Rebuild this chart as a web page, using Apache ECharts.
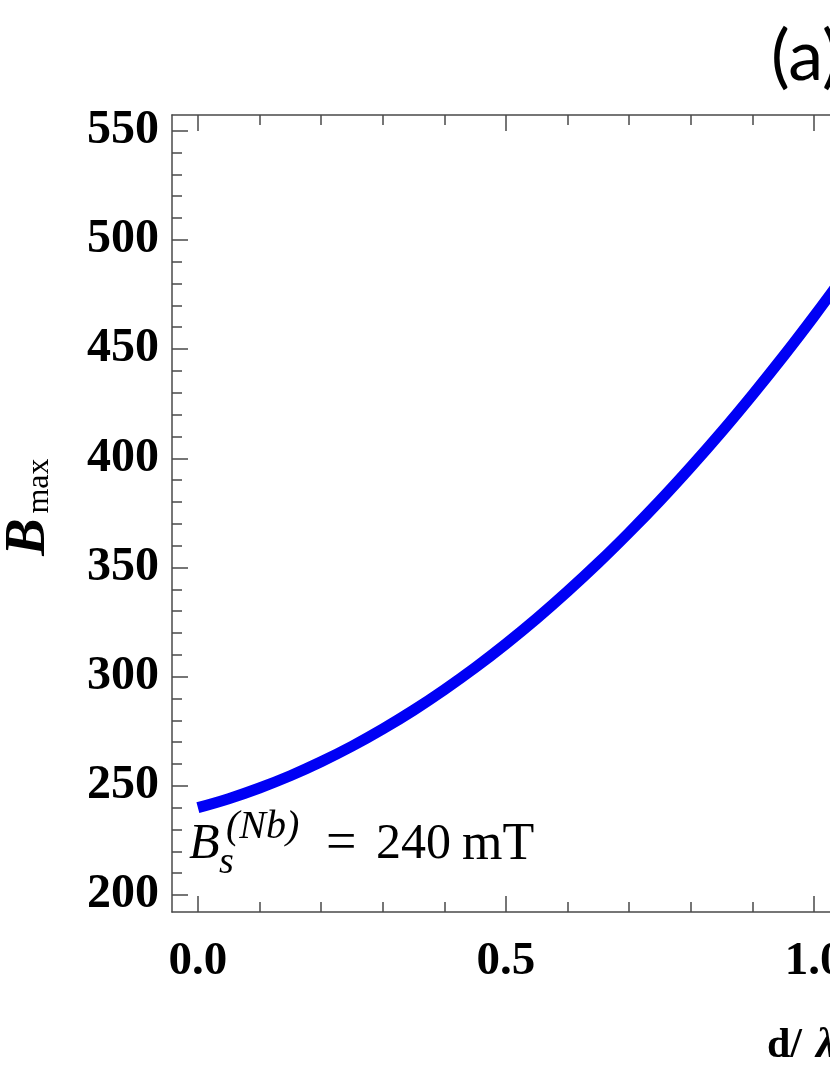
<!DOCTYPE html>
<html>
<head>
<meta charset="utf-8">
<title>B_max vs d/lambda</title>
<script src="https://cdn.jsdelivr.net/npm/echarts@6/dist/echarts.min.js"></script>
<style>
  html, body { margin: 0; padding: 0; background: #fff; overflow: hidden; }
  /* plot continues past the right edge of the window, like the cropped figure */
  #chart { width: 1470px; height: 1075px; }
</style>
</head>
<body>
<div id="chart"></div>
<script>
// Data
const dOverLambda = [0, 0.05, 0.10, 0.15, 0.20, 0.25, 0.30, 0.35, 0.40, 0.45, 0.50,
  0.55, 0.60, 0.65, 0.70, 0.75, 0.80, 0.85, 0.90, 0.95, 1.00, 1.05];
const bMax = [240.0, 244.1, 249.0, 254.6, 261.0, 268.1, 276.0, 284.6, 294.0, 304.1, 315.0,
  326.6, 339.0, 352.1, 366.0, 380.6, 396.0, 412.1, 429.0, 446.6, 465.0, 484.1];

// Tick positions
const xMajorTicks = [0, 0.5, 1.0, 1.5, 2.0];
const xMinorTicks = [0.1, 0.2, 0.3, 0.4, 0.6, 0.7, 0.8, 0.9, 1.1, 1.2, 1.3, 1.4, 1.6, 1.7, 1.8, 1.9];
const yMajorTicks = [200, 250, 300, 350, 400, 450, 500, 550];
const yMinorTicks = [210, 220, 230, 240, 260, 270, 280, 290, 310, 320, 330, 340, 360, 370, 380, 390,
  410, 420, 430, 440, 460, 470, 480, 490, 510, 520, 530, 540];

const axisColor = '#4a4a4a';
const serif = '"Liberation Serif", "Times New Roman", serif';

const chart = echarts.init(document.getElementById('chart'));

function xAxisDef(position, ticks, len, withLine, withLabel) {
  return {
    type: 'value',
    position: position,
    min: -0.042,
    max: 2.042,
    axisLine: { show: withLine, onZero: false, lineStyle: { color: axisColor, width: 1.5 } },
    axisTick: { show: true, inside: true, length: len, customValues: ticks, lineStyle: { color: axisColor, width: 1.5 } },
    axisLabel: {
      show: withLabel,
      customValues: ticks,
      margin: 26,
      formatter: v => v.toFixed(1),
      color: '#000',
      fontFamily: serif,
      fontWeight: 'bold',
      fontSize: 47
    },
    splitLine: { show: false }
  };
}

function yAxisDef(position, ticks, len, withLine, withLabel) {
  return {
    type: 'value',
    position: position,
    min: 192.2,
    max: 557.2,
    axisLine: { show: withLine, onZero: false, lineStyle: { color: axisColor, width: 1.5 } },
    axisTick: { show: true, inside: true, length: len, customValues: ticks, lineStyle: { color: axisColor, width: 1.5 } },
    axisLabel: {
      show: withLabel,
      customValues: ticks,
      margin: 13,
      color: '#000',
      fontFamily: serif,
      fontWeight: 'bold',
      fontSize: 48
    },
    splitLine: { show: false }
  };
}

const option = {
  animation: false,
  backgroundColor: '#fff',
  grid: { left: 172, top: 115, right: 14, bottom: 163, containLabel: false },
  xAxis: [
    xAxisDef('bottom', xMajorTicks, 16, true, true),
    xAxisDef('bottom', xMinorTicks, 10, false, false),
    xAxisDef('top', xMajorTicks, 16, true, false),
    xAxisDef('top', xMinorTicks, 10, false, false)
  ],
  yAxis: [
    yAxisDef('left', yMajorTicks, 16, true, true),
    yAxisDef('left', yMinorTicks, 10, false, false),
    yAxisDef('right', yMajorTicks, 16, true, false),
    yAxisDef('right', yMinorTicks, 10, false, false)
  ],
  series: [{
    type: 'line',
    xAxisIndex: 0,
    yAxisIndex: 0,
    data: dOverLambda.map((d, i) => [d, bMax[i]]),
    smooth: 0.4,
    showSymbol: false,
    lineStyle: { color: '#0000f5', width: 11, cap: 'butt' }
  }],
  graphic: [
    // panel tag
    { type: 'text', left: 771, top: 22,
      style: { text: '(a)', font: '400 70px Lato, "Open Sans", sans-serif', fill: '#000' } },
    // y axis name: B_max
    { type: 'text', x: 30, y: 537, rotation: Math.PI / 2,
      style: { text: 'B', font: 'italic bold 56px ' + serif, fill: '#000', align: 'center', verticalAlign: 'middle' } },
    { type: 'text', x: 40, y: 486, rotation: Math.PI / 2,
      style: { text: 'max', font: '32px ' + serif, fill: '#000', align: 'center', verticalAlign: 'middle' } },
    // x axis name: d/ λ
    { type: 'text', x: 767, y: 1046,
      style: { text: 'd/', font: 'bold 42px ' + serif, fill: '#000', align: 'left', verticalAlign: 'middle' } },
    { type: 'text', x: 816, y: 1046,
      style: { text: 'λ', font: 'italic bold 42px ' + serif, fill: '#000', align: 'left', verticalAlign: 'middle' } },
    // annotation B_s^(Nb) = 240 mT
    { type: 'text', x: 189, y: 845,
      style: { text: 'B', font: 'italic 50px ' + serif, fill: '#000', align: 'left', verticalAlign: 'middle' } },
    { type: 'text', x: 219, y: 863,
      style: { text: 's', font: 'italic 38px ' + serif, fill: '#000', align: 'left', verticalAlign: 'middle' } },
    { type: 'text', x: 226, y: 827,
      style: { text: '(Nb)', font: 'italic 40px ' + serif, fill: '#000', align: 'left', verticalAlign: 'middle' } },
    { type: 'text', x: 326, y: 845,
      style: { text: '=', font: '54px ' + serif, fill: '#000', align: 'left', verticalAlign: 'middle' } },
    { type: 'text', x: 376, y: 845,
      style: { text: '240', font: '50px ' + serif, fill: '#000', align: 'left', verticalAlign: 'middle' } },
    { type: 'text', x: 462, y: 845,
      style: { text: 'mT', font: '52px ' + serif, fill: '#000', align: 'left', verticalAlign: 'middle' } }
  ]
};

chart.setOption(option);
</script>
</body>
</html>
